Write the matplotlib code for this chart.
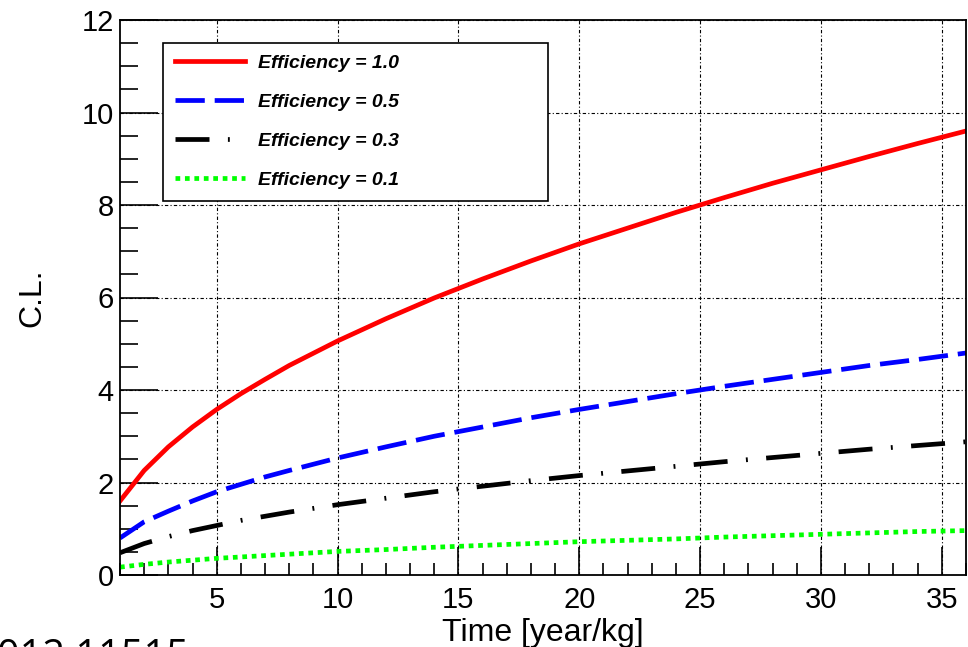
import numpy as np
import matplotlib
matplotlib.use("Agg")
import matplotlib.pyplot as plt
from matplotlib.ticker import MultipleLocator

plt.rcParams["font.family"] = ["Liberation Sans", "DejaVu Sans"]

# values
time = [1, 2, 3, 4, 5, 6, 7, 8, 10, 12, 14, 16, 18, 20, 22, 24, 26, 28, 30, 32, 34, 36]
eff_10 = [1.6, 2.26, 2.77, 3.2, 3.58, 3.92, 4.23, 4.53, 5.06, 5.54, 5.99, 6.4, 6.79,
          7.16, 7.5, 7.84, 8.16, 8.47, 8.76, 9.05, 9.33, 9.6]
eff_05 = [0.8, 1.15, 1.38, 1.6, 1.8, 1.96, 2.12, 2.26, 2.53, 2.77, 3.0, 3.2, 3.4,
          3.58, 3.75, 3.92, 4.08, 4.23, 4.38, 4.53, 4.66, 4.8]
eff_03 = [0.48, 0.68, 0.83, 0.96, 1.07, 1.18, 1.27, 1.36, 1.52, 1.66, 1.8, 1.92, 2.04,
          2.15, 2.25, 2.35, 2.45, 2.54, 2.63, 2.72, 2.8, 2.88]
eff_01 = [0.17, 0.23, 0.28, 0.32, 0.36, 0.39, 0.42, 0.45, 0.51, 0.55, 0.6, 0.64, 0.68,
          0.72, 0.75, 0.78, 0.82, 0.85, 0.88, 0.91, 0.94, 0.96]
labels = ["Efficiency = 1.0", "Efficiency = 0.5", "Efficiency = 0.3", "Efficiency = 0.1"]

fig = plt.figure(figsize=(9.68, 6.47), dpi=100)
ax = fig.add_axes([120 / 968, 1 - 575 / 647, 846 / 968, 555 / 647])

lw = 3.4
ax.plot(time, eff_10, color="#ff0000", lw=lw, label=labels[0])
ax.plot(time, eff_05, color="#0000ff", lw=lw, dashes=(6.2, 2.1), label=labels[1])
ax.plot(time, eff_03, color="black", lw=lw, dashes=(7.2, 3.9, 0.4, 3.9), label=labels[2])
ax.plot(time, eff_01, color="#00ff00", lw=lw, dashes=(1, 1), label=labels[3])

ax.set_xlim(1, 36)
ax.set_ylim(0, 12)
ax.xaxis.set_major_locator(MultipleLocator(5))
ax.xaxis.set_minor_locator(MultipleLocator(1))
ax.yaxis.set_major_locator(MultipleLocator(2))
ax.yaxis.set_minor_locator(MultipleLocator(0.5))

ax.grid(True, which="major", color="black", lw=0.8, linestyle=(0, (3, 2, 1, 2)))
ax.tick_params(axis="both", which="both", direction="in", top=False, right=False,
               labelsize=21, width=1.2, pad=8)
ax.tick_params(axis="y", which="both", pad=4.5)
ax.tick_params(axis="y", which="major", length=27)
ax.tick_params(axis="y", which="minor", length=13)
ax.tick_params(axis="x", which="major", length=20)
ax.tick_params(axis="x", which="minor", length=9)
for sp in ax.spines.values():
    sp.set_linewidth(1.3)

ax.set_xlabel("Time [year/kg]", fontsize=23)
ax.xaxis.set_label_coords(0.5, -0.078)
ax.set_ylabel("C.L.", fontsize=23)
ax.yaxis.set_label_coords(-0.086, 0.5)

leg = ax.legend(loc="upper left", bbox_to_anchor=(0.051, 0.672, 0.455, 0.2866),
                mode="expand", borderaxespad=0, fancybox=False, framealpha=1,
                edgecolor="black", handlelength=3.6, handletextpad=0.67,
                labelspacing=1.1, borderpad=0.6,
                prop={"size": 14, "weight": "bold", "style": "italic"})
leg.get_frame().set_linewidth(1.2)

fig.text(-0.003, 1 - 637 / 647, "012.11515", fontsize=28.5, va="top", ha="left",
         family=["Open Sans", "DejaVu Sans"])

fig.savefig("out.png", dpi=100)
